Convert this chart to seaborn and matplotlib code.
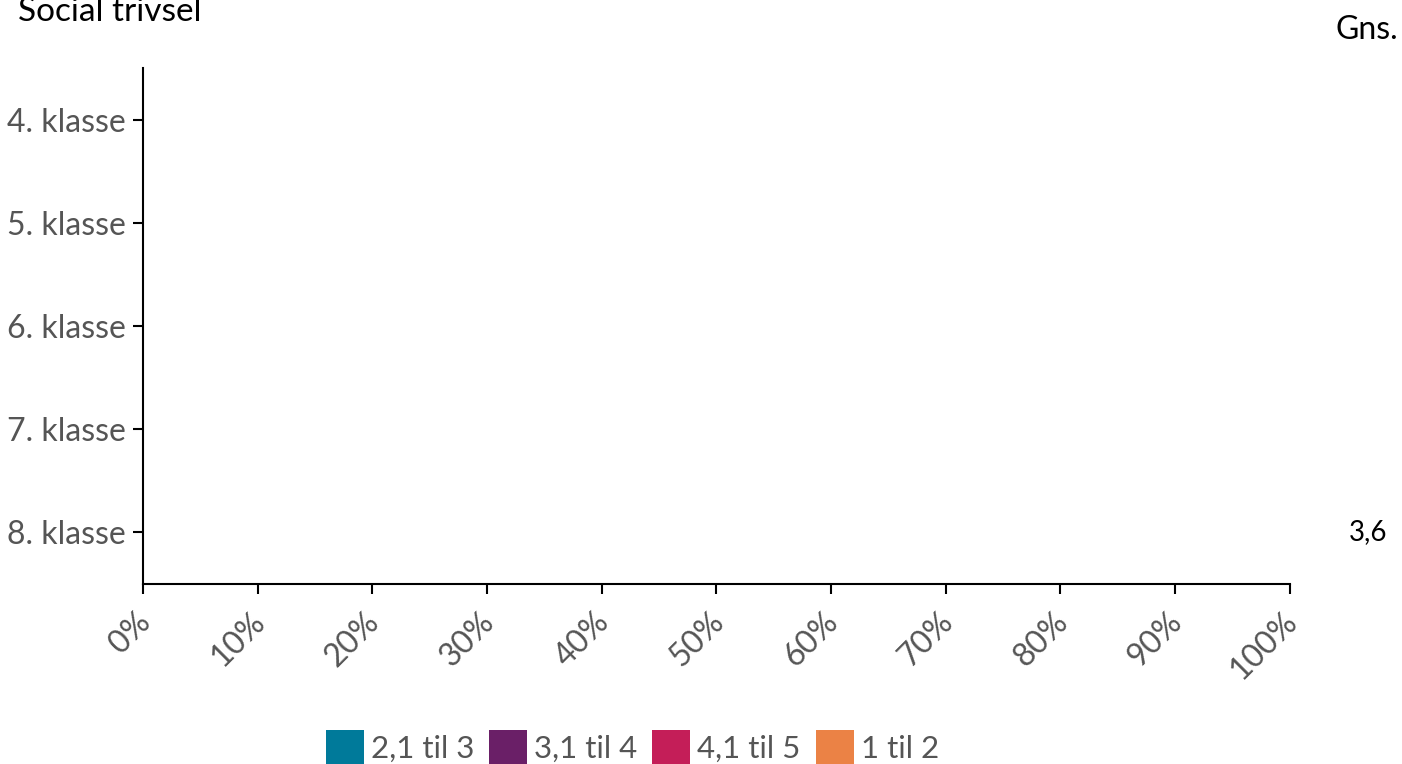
import matplotlib
matplotlib.use("Agg")
import matplotlib.pyplot as plt
import matplotlib.transforms as mtransforms
from matplotlib.patches import Patch
import numpy as np
import pandas as pd
import seaborn as sns

# Data
klasser = ["4. klasse", "5. klasse", "6. klasse", "7. klasse", "8. klasse"]
kategorier = ["2,1 til 3", "3,1 til 4", "4,1 til 5", "1 til 2"]
farver = ["#007A9A", "#6A1F67", "#C41E58", "#EB8245"]
andel_2_3 = [0, 0, 0, 0, 0]
andel_3_4 = [0, 0, 0, 0, 0]
andel_4_5 = [0, 0, 0, 0, 0]
andel_1_2 = [0, 0, 0, 0, 0]
gns = [None, None, None, None, "3,6"]
x_ticks = [0, 10, 20, 30, 40, 50, 60, 70, 80, 90, 100]

sns.set_style("ticks")
plt.rcParams["font.family"] = ["Lato", "DejaVu Sans"]

fig = plt.figure(figsize=(14.02, 7.64), dpi=100)
ax = fig.add_axes([0.102, 0.2356, 0.818, 0.6754])

df = pd.DataFrame({"klasse": klasser,
                   kategorier[0]: andel_2_3,
                   kategorier[1]: andel_3_4,
                   kategorier[2]: andel_4_5,
                   kategorier[3]: andel_1_2})

# stacked bars: draw cumulative sums from the widest down
cum = df[kategorier].cumsum(axis=1)
for kat, farve in reversed(list(zip(kategorier, farver))):
    sns.barplot(x=cum[kat], y=df["klasse"], color=farve, orient="h",
                width=0.6, ax=ax)

ax.set_xlim(0, 100)
ax.set_ylim(4.5, -0.5)
ax.set_xticks(x_ticks)
ax.set_xticklabels([f"{t}%" for t in x_ticks], rotation=45, ha="right",
                   rotation_mode="anchor")
ax.set_xlabel("")
ax.set_ylabel("")
ax.tick_params(axis="both", labelsize=23, colors="black", labelcolor="#555555",
               length=7.5, width=1.5, direction="out")
ax.tick_params(axis="x", pad=9)
ax.tick_params(axis="y", pad=5)
shift = mtransforms.ScaledTranslation(-8 / 100, 0, fig.dpi_scale_trans)
for lab in ax.get_xticklabels():
    lab.set_transform(lab.get_transform() + shift)
for side in ["top", "right"]:
    ax.spines[side].set_visible(False)
for side in ["left", "bottom"]:
    ax.spines[side].set_linewidth(1.5)
    ax.spines[side].set_color("black")

# averages
for i, g in enumerate(gns):
    if g is not None:
        ax.text(1.068, i, g, transform=ax.get_yaxis_transform(), ha="center",
                va="center", fontsize=20, color="black")
fig.text(0.997, 0.961, "Gns.", ha="right", va="center", fontsize=23, color="black")
fig.text(0.013, 0.984, "Social trivsel", ha="left", va="center", fontsize=24,
         color="black")

handles = [Patch(facecolor=f, edgecolor="none") for f in farver]
fig.legend(handles, kategorier, loc="center", bbox_to_anchor=(0.451, 0.022),
           ncol=4, frameon=False, fontsize=22.5, labelcolor="#555555",
           handlelength=1.22, handleheight=1.3, handletextpad=0.22,
           columnspacing=0.48, borderpad=0)

fig.savefig("out.png", dpi=100)
